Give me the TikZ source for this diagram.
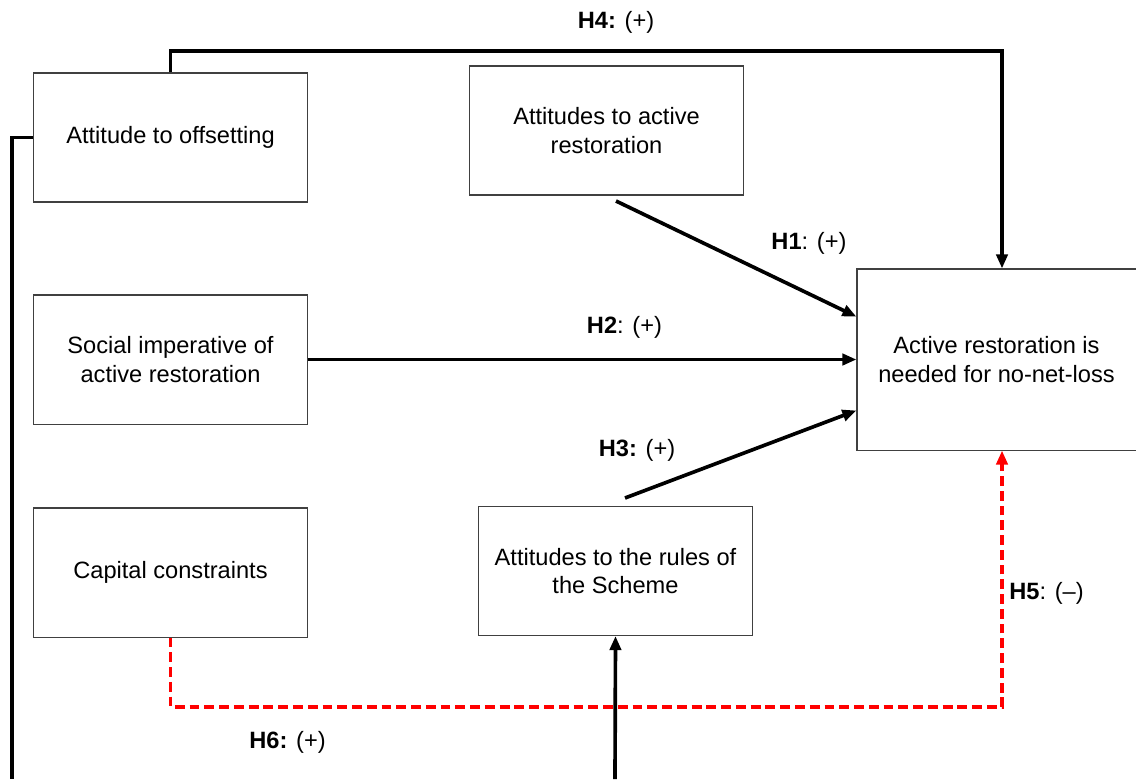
\documentclass[tikz,border=0pt]{standalone}
\usepackage{fontspec}
\setmainfont{Liberation Sans}
\usetikzlibrary{arrows.meta}
\begin{document}
\begin{tikzpicture}[x=0.025cm, y=-0.025cm,
    box/.style={rectangle, draw=black!75, line width=0.75pt, minimum width=6.825cm, minimum height=3.225cm, align=center, font=\fontsize{16.8}{20}\selectfont},
    hyp/.style={inner sep=0pt, font=\fontsize{16.8}{20}\selectfont},
    link/.style={line width=2.6pt, -{Triangle[length=10pt,width=8pt]}},
    redlink/.style={link, red, dash pattern=on 7pt off 3.5pt}]
        \useasboundingbox (0,0) rectangle (1136,779);

        \node[box] (offset-box) at(170.5,137.5){Attitude to offsetting};
        \node[box] (active-att-box) at(606.5,130.5){Attitudes to active\\restoration};
        \node[box] (social-box) at(170.5,359.5){Social imperative of\\active restoration};
        \node[box, minimum width=6.975cm, minimum height=4.525cm] (active-box) at(996.5,359.5){Active restoration is\\needed for no-net-loss};
        \node[box] (capital-box) at(170.5,572.5){Capital constraints};
        \node[box] (rules-box) at(615.5,571){Attitudes to the rules of\\the Scheme};

        \coordinate (h1-start) at(616,201);
        \coordinate (h3-start) at(625,498);
        \coordinate (h4-turn) at(1002,51);
        \coordinate (h6-corner) at(1002,707);
        \coordinate (loop-left) at(12,779);
        \coordinate (loop-right) at(615,779);

        \node[hyp] (h1-label) at(809,243){\textbf{H1}: (+)};
        \node[hyp] (h2-label) at(624.5,327){\textbf{H2}: (+)};
        \node[hyp] (h3-label) at(637,450){\textbf{H3:} (+)};
        \node[hyp] (h4-label) at(616,22){\textbf{H4:} (+)};
        \node[hyp] (h5-label) at(1046.5,593){\textbf{H5}: (–)};
        \node[hyp] (h6-label) at(287.5,742){\textbf{H6:} (+)};

        \draw [link] (h1-start) -- (active-box.163);
        \draw [link] (social-box) -- (active-box);
        \draw [link] (h3-start) -- (active-box.200);
        \draw [link] (offset-box.north) |- (h4-turn) -- (h4-turn |- active-box.north);

        \draw [redlink] (capital-box.south) |- (h6-corner) -- (h6-corner |- active-box.south);

        \draw [line width=2.6pt] (offset-box.west) -| (loop-left);
        \draw [link] (loop-right) -- (rules-box.south);

      \end{tikzpicture}
\end{document}
